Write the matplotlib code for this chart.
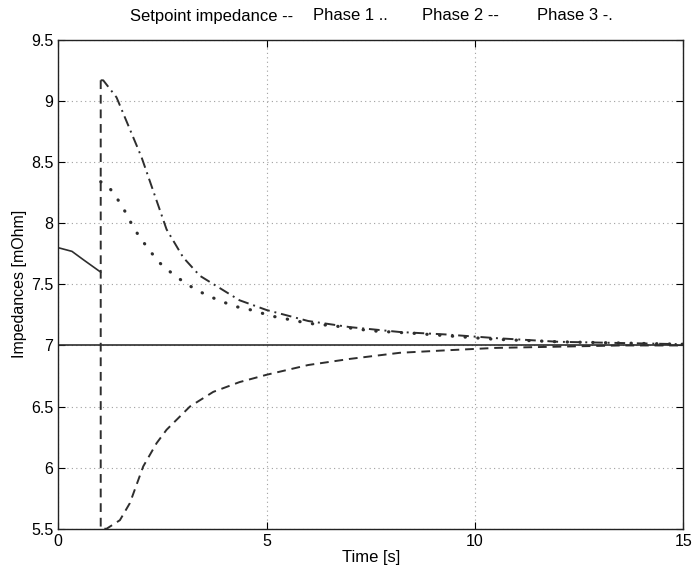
import matplotlib
matplotlib.use("Agg")
import matplotlib.pyplot as plt
import numpy as np

plt.rcParams['font.family'] = ['Liberation Sans', 'DejaVu Sans']

# before the step (all phases equal)
t_pre = [0.0, 0.33, 0.61, 1.02]
z_pre = [7.80, 7.77, 7.70, 7.60]

# setpoint
t_set = [0.0, 15.0]
z_set = [7.0, 7.0]

# phase 1 (dotted)
t_ph1 = [1.02, 1.23, 1.52, 1.83, 2.14, 2.42, 2.73, 3.05, 3.34, 3.64, 3.93, 4.23,
         4.53, 4.83, 5.13, 5.43, 5.72, 6.03, 6.63, 7.5, 8.5, 9.3, 10.5, 12.0, 13.5, 15.0]
z_ph1 = [8.34, 8.29, 8.15, 7.95, 7.80, 7.68, 7.59, 7.51, 7.45, 7.40, 7.36, 7.32,
         7.30, 7.27, 7.24, 7.22, 7.20, 7.18, 7.16, 7.12, 7.10, 7.08, 7.05, 7.03, 7.02, 7.01]

# phase 2 (dashed)
t_ph2 = [1.02, 1.02, 1.16, 1.48, 1.72, 2.04, 2.36, 2.6, 3.16, 3.72, 4.35, 5.0, 6.0,
         7.0, 8.2, 9.3, 10.5, 12.0, 13.5, 15.0]
z_ph2 = [9.17, 5.50, 5.50, 5.57, 5.71, 6.01, 6.20, 6.31, 6.50, 6.62, 6.70, 6.76, 6.84,
         6.89, 6.94, 6.96, 6.98, 6.99, 7.0, 7.0]

# phase 3 (dash-dot)
t_ph3 = [1.02, 1.08, 1.4, 2.0, 2.6, 3.0, 3.4, 4.35, 5.0, 6.0, 7.0, 8.2, 9.3,
         10.5, 12.0, 13.5, 15.0]
z_ph3 = [9.17, 9.17, 9.03, 8.54, 7.95, 7.72, 7.57, 7.37, 7.29, 7.20, 7.15, 7.11,
         7.09, 7.06, 7.03, 7.02, 7.01]

fig = plt.figure(figsize=(6.93, 5.71), dpi=100)
ax = fig.add_axes([0.084, 0.074, 0.902, 0.856])

lc = "#2e2e2e"
ax.plot(t_set, z_set, color=lc, lw=1.2)
ax.plot(t_pre, z_pre, color=lc, lw=1.2)
ax.plot(t_ph1, z_ph1, color=lc, lw=2.3, linestyle=(0, (0.1, 3.9)),
        dash_capstyle="round")
ax.plot(t_ph2, z_ph2, color=lc, lw=1.4, linestyle=(0, (4.5, 3)))
ax.plot(t_ph3, z_ph3, color=lc, lw=1.4, linestyle=(0, (5.5, 2.5, 1, 2.5)))

ax.set_xlim(0, 15)
ax.set_ylim(5.5, 9.5)
ax.set_xticks([0, 5, 10, 15])
ax.set_yticks(np.arange(5.5, 9.51, 0.5))
ax.set_yticklabels(["5.5", "6", "6.5", "7", "7.5", "8", "8.5", "9", "9.5"])
ax.grid(True, color="#a0a0a0", linestyle=(0, (1, 3)), lw=0.8)
ax.tick_params(direction="in", top=True, right=True, labelsize=11.5, length=5)
for s in ax.spines.values():
    s.set_linewidth(1.0)
    s.set_color("#222222")

ax.set_xlabel("Time [s]", fontsize=12, labelpad=1)
ax.set_ylabel("Impedances [mOhm]", fontsize=11.5, labelpad=3)

# title in four pieces, like the original legend-in-title
title_y = 1 - 16 / 571
fig.text(130 / 693, title_y, "Setpoint impedance --", fontsize=12, va="center")
fig.text(313 / 693, title_y, "Phase 1 ..", fontsize=12, va="center")
fig.text(422 / 693, title_y, "Phase 2 --", fontsize=12, va="center")
fig.text(537 / 693, title_y, "Phase 3 -.", fontsize=12, va="center")

fig.savefig("out.png", dpi=100)
